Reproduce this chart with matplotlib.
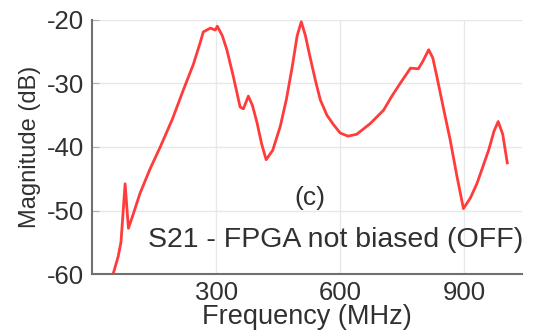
import matplotlib
matplotlib.use("Agg")
import matplotlib.pyplot as plt
import numpy as np

plt.rcParams['font.family'] = ['Liberation Sans', 'DejaVu Sans']
plt.rcParams['axes.unicode_minus'] = False

# S21
freq_mhz = [51, 63, 70, 80, 88, 100, 116, 140, 165, 195, 221, 245, 261, 269, 286, 298, 303,
            315, 326, 342, 358, 366, 378, 388, 399, 410, 421, 437, 455, 470, 484, 496, 506,
            516, 527, 540, 552, 568, 584, 600, 619, 640, 673, 705, 725, 745, 770, 789, 800,
            814, 824, 834, 850, 866, 882, 898, 915, 931, 959, 972, 982, 993, 1004]
s21_db = [-60, -57.3, -55, -45.8, -52.8, -50.5, -47.3, -43.5, -40, -35.5, -31, -27, -23.7, -21.9,
          -21.3, -21.6, -21, -22.5, -24.7, -29, -33.7, -34, -32, -33.5, -36.2, -39.5, -42, -40.5,
          -36.8, -32.5, -27.4, -22.5, -20.3, -22.5, -25.8, -29.5, -32.6, -35, -36.5, -37.8, -38.3,
          -38, -36.3, -34.2, -32, -30, -27.6, -27.7, -26.5, -24.7, -26, -29, -34, -38.9, -44.5,
          -49.7, -48, -45.7, -40.5, -37.5, -36, -38, -42.5]

xticks = [300, 600, 900]
yticks = [-60, -50, -40, -30, -20]

txt = "#303030"

fig = plt.figure(figsize=(5.35, 3.31), dpi=100)
ax = fig.add_axes([0.172, 0.172, 0.804, 0.768])

ax.plot(freq_mhz, s21_db, color="#ff3b3b", linewidth=2.0, solid_joinstyle="round")

ax.set_xlim(0, 1040)
ax.set_ylim(-60, -20)
ax.set_xticks(xticks)
ax.set_yticks(yticks)
ax.grid(True, color="#e8e8e8", linewidth=1.0)
ax.set_axisbelow(True)

for side in ["top", "right"]:
    ax.spines[side].set_visible(False)
for side in ["left", "bottom"]:
    ax.spines[side].set_color("#707070")
    ax.spines[side].set_linewidth(1.5)

ax.tick_params(axis="both", direction="in", length=5, color="#b0b0b0",
               labelsize=18.5, labelcolor=txt)
ax.tick_params(axis="x", pad=5, length=0)
ax.tick_params(axis="y", pad=6)
ax.set_xlabel("Frequency (MHz)", fontsize=19.5, color=txt, labelpad=-1)
ax.set_ylabel("Magnitude (dB)", fontsize=17, color=txt, labelpad=4)

ax.text(527, -48, "(c)", fontsize=19, color=txt, ha="center", va="center")
ax.text(590, -54.6, "S21 - FPGA not biased (OFF)", fontsize=20.5, color=txt,
        ha="center", va="center")

fig.savefig("out.png", dpi=100)
